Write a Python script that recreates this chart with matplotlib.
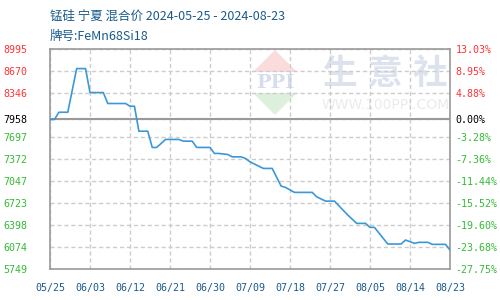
import matplotlib
matplotlib.use("Agg")
import matplotlib.pyplot as plt
import matplotlib.dates as mdates
from matplotlib.patches import Polygon
import pandas as pd

title1 = "锰硅 宁夏 混合价 2024-05-25 - 2024-08-23"
title2 = "牌号:FeMn68Si18"

dates = ["2024-05-25", "2024-05-26", "2024-05-27", "2024-05-29", "2024-05-31",
         "2024-06-02", "2024-06-03", "2024-06-06", "2024-06-07", "2024-06-11",
         "2024-06-12", "2024-06-13", "2024-06-14", "2024-06-16", "2024-06-17",
         "2024-06-18", "2024-06-20", "2024-06-23", "2024-06-24", "2024-06-26",
         "2024-06-27", "2024-06-30", "2024-07-01", "2024-07-02", "2024-07-04",
         "2024-07-05", "2024-07-07", "2024-07-08", "2024-07-09", "2024-07-12",
         "2024-07-14", "2024-07-16", "2024-07-17", "2024-07-19", "2024-07-23",
         "2024-07-24", "2024-07-26", "2024-07-28", "2024-07-31", "2024-08-02",
         "2024-08-04", "2024-08-05", "2024-08-06", "2024-08-09", "2024-08-12",
         "2024-08-13", "2024-08-15", "2024-08-16", "2024-08-18", "2024-08-19",
         "2024-08-22", "2024-08-23"]
prices = [7958, 7958, 8065, 8065, 8710,
          8710, 8356, 8356, 8194, 8194,
          8154, 8154, 7785, 7785, 7545,
          7545, 7663, 7663, 7638, 7638,
          7545, 7545, 7456, 7456, 7441,
          7406, 7406, 7382, 7332, 7235,
          7235, 6974, 6954, 6881, 6881,
          6816, 6752, 6752, 6546, 6423,
          6423, 6364, 6364, 6118, 6118,
          6177, 6128, 6143, 6143, 6113,
          6113, 6029]

base = 7958
y_ticks = [8995, 8670, 8346, 7958, 7697, 7372, 7047, 6723, 6398, 6074, 5749]
pct_labels = ["13.03%", "8.95%", "4.88%", "0.00%", "-3.28%", "-7.36%",
              "-11.44%", "-15.52%", "-19.60%", "-23.68%", "-27.75%"]
x_ticks = ["2024-05-25", "2024-06-03", "2024-06-12", "2024-06-21", "2024-06-30",
           "2024-07-09", "2024-07-18", "2024-07-27", "2024-08-05", "2024-08-14",
           "2024-08-23"]

RED = "#ff3333"
GREEN = "#33bb33"
BLUE_TXT = "#1a5a8a"
LINE = "#3a98d8"

plt.rcParams['font.family'] = ['Noto Sans CJK SC', 'DejaVu Sans']

fig = plt.figure(figsize=(5, 3), dpi=100)
W, H = 500, 300
ax = fig.add_axes([50 / W, 1 - 269 / H, 400 / W, (269 - 49.3) / H])
ax.patch.set_alpha(0)

def fx(x):
    return x / W

def fy(y):
    return 1 - y / H

# watermark (behind axes)
fig.patches.append(Polygon([(fx(253), fy(72)), (fx(297), fy(72)), (fx(275), fy(50))],
                           closed=True, transform=fig.transFigure, color="#fadcdc",
                           zorder=-2, lw=0))
fig.patches.append(Polygon([(fx(253), fy(93)), (fx(297), fy(93)), (fx(275), fy(115))],
                           closed=True, transform=fig.transFigure, color="#dcf0dc",
                           zorder=-2, lw=0))
fig.text(fx(275), fy(83), "PPI", color="#d6deee", fontsize=14, fontweight="bold",
         family="DejaVu Serif", ha="center", va="center", zorder=-2)
for ch, cx in zip("生意社", [340, 385, 430]):
    fig.text(fx(cx), fy(73), ch, color="#dde3ee", fontsize=25, fontweight="bold",
             ha="center", va="center", zorder=-2)
fig.text(fx(386), fy(105), "WWW.100PPI.COM", color="#ebebeb", fontsize=10,
         family="DejaVu Sans", ha="center", va="center", zorder=-2)

x = pd.to_datetime(dates)
ax.plot(x, prices, color=LINE, lw=1.2, zorder=3)

xt = pd.to_datetime(x_ticks)
ax.set_xlim(xt[0], xt[-1])
ax.set_ylim(5749, 8995)
ax.set_xticks(xt)
ax.set_xticklabels([d.strftime("%m/%d") for d in xt])
ax.set_yticks(y_ticks)
ax.set_yticklabels([str(v) for v in y_ticks])

ax.grid(True, color="#cccccc", ls=(0, (3, 2)), lw=1, zorder=1)
ax.axhline(base, color="#999999", lw=1.5, zorder=2)
for s in ax.spines.values():
    s.set_color("#999999")
    s.set_linewidth(1.2)

mono = "DejaVu Sans Mono"
ax.tick_params(axis="both", length=0)
ax.tick_params(axis="y", pad=16)
ax.tick_params(axis="x", pad=10)
for lbl, v in zip(ax.get_yticklabels(), y_ticks):
    lbl.set_family(mono)
    lbl.set_fontsize(7.2)
    lbl.set_color(RED if v > base else ("black" if v == base else GREEN))
for lbl in ax.get_xticklabels():
    lbl.set_family(mono)
    lbl.set_fontsize(7.2)
    lbl.set_color(BLUE_TXT)

ax2 = ax.twinx()
ax2.set_ylim(5749, 8995)
ax2.set_yticks(y_ticks)
ax2.set_yticklabels(pct_labels)
ax2.tick_params(axis="y", length=0, pad=4)
for s in ax2.spines.values():
    s.set_visible(False)
for lbl, v in zip(ax2.get_yticklabels(), y_ticks):
    lbl.set_family(mono)
    lbl.set_fontsize(7.2)
    lbl.set_color(RED if v > base else ("black" if v == base else GREEN))

fig.text(fx(50), fy(16), title1, color=BLUE_TXT, fontsize=9, ha="left", va="center")
fig.text(fx(50), fy(36), title2, color=BLUE_TXT, fontsize=9, ha="left", va="center")

fig.savefig("out.png", dpi=100)
